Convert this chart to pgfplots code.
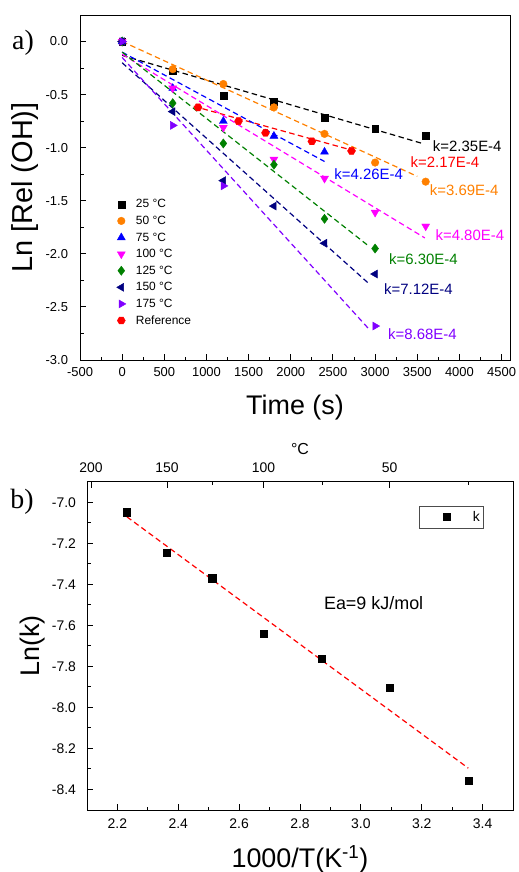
\documentclass[border=0pt]{standalone}
\usepackage{pgfplots}
\pgfplotsset{compat=1.18}
\usepackage{fontspec}
\setmainfont{Liberation Sans}
\newfontfamily\seriffont{Liberation Serif}
\definecolor{cOrange}{RGB}{255,128,0}
\definecolor{cBlue}{RGB}{0,0,255}
\definecolor{cMag}{RGB}{255,0,255}
\definecolor{cGreen}{RGB}{0,128,0}
\definecolor{cNavy}{RGB}{0,0,128}
\definecolor{cPurple}{RGB}{128,0,255}
\definecolor{cRed}{RGB}{255,0,0}
\pgfdeclareplotmark{hexagon*}{%
  \pgfpathmoveto{\pgfqpointpolar{0}{\pgfplotmarksize}}%
  \pgfpathlineto{\pgfqpointpolar{60}{\pgfplotmarksize}}%
  \pgfpathlineto{\pgfqpointpolar{120}{\pgfplotmarksize}}%
  \pgfpathlineto{\pgfqpointpolar{180}{\pgfplotmarksize}}%
  \pgfpathlineto{\pgfqpointpolar{240}{\pgfplotmarksize}}%
  \pgfpathlineto{\pgfqpointpolar{300}{\pgfplotmarksize}}%
  \pgfpathclose\pgfusepathqfillstroke}
\pgfplotsset{
  fitline/.style={line width=1.2bp, dash pattern=on 5.5bp off 3.5bp, forget plot, no marks},
  commonax/.style={scale only axis, tick align=inside, axis line style={line width=1bp},
    major tick length=6bp, minor tick length=3.5bp,
    every tick/.style={line width=1bp, black},
    /pgf/number format/assume math mode=true, /pgf/number format/1000 sep={},
    scaled ticks=false, clip=false},
}
\begin{document}
\begin{tikzpicture}
%%%%% Top panel
\begin{axis}[commonax, at={(80bp,-15bp)}, anchor=north west, width=430bp, height=345bp,
  xmin=-500, xmax=4600, ymin=-3, ymax=0.25,
  xtick={-500,0,500,1000,1500,2000,2500,3000,3500,4000,4500},
  ytick={-3,-2.5,-2,-1.5,-1,-0.5,0},
  minor x tick num=1, minor y tick num=1,
  xtick pos=left, ytick pos=left,
  tick label style={font=\fontsize{13}{15}\selectfont},
  yticklabel style={/pgf/number format/.cd, fixed, fixed zerofill, precision=1, /tikz/.cd, xshift=-8.5bp},
  xticklabel style={yshift=-4bp},
  xlabel={Time (s)}, ylabel={Ln [Rel (OH)]},
  xlabel style={font=\fontsize{27}{30}\selectfont, at={(axis description cs:0.5,-0.139)}, anchor=center},
  ylabel style={font=\fontsize{29}{32}\selectfont, at={(axis description cs:-0.128,0.5)}, anchor=center},
  legend style={at={(0.0849,0.475)}, anchor=north west, draw=none, fill=none,
    font=\fontsize{12}{14}\selectfont, inner sep=0pt, row sep=0.6bp,
    nodes={text height=9bp, text depth=2bp, inner ysep=2.5bp},
    /tikz/every odd column/.append style={column sep=8bp}},
  legend cell align=left,
]
\addplot[only marks, mark=square*, mark size=3.4bp, black] coordinates {(0,0)(600,-0.28)(1200,-0.51)(1800,-0.57)(2400,-0.72)(3000,-0.82)(3600,-0.89)};
\addlegendentry{25 °C}
\addplot[only marks, mark=*, mark size=3.8bp, cOrange] coordinates {(0,0)(600,-0.26)(1200,-0.40)(1800,-0.62)(2400,-0.87)(3000,-1.14)(3600,-1.32)};
\addlegendentry{50 °C}
\addplot[only marks, mark=triangle*, mark size=4.6bp, cBlue] coordinates {(0,0)(600,-0.44)(1200,-0.75)(1800,-0.89)(2400,-1.04)};
\addlegendentry{75 °C}
\addplot[only marks, mark=triangle*, mark size=4.6bp, mark options={rotate=180}, cMag] coordinates {(0,0)(600,-0.44)(1200,-0.81)(1800,-1.11)(2400,-1.29)(3000,-1.61)(3600,-1.74)};
\addlegendentry{100 °C}
\addplot[only marks, mark=diamond*, mark size=4.6bp, cGreen] coordinates {(0,0)(600,-0.58)(1200,-0.96)(1800,-1.16)(2400,-1.67)(3000,-1.95)};
\addlegendentry{125 °C}
\addplot[only marks, mark=triangle*, mark size=4.6bp, mark options={rotate=90}, cNavy] coordinates {(0,0)(600,-0.66)(1200,-1.31)(1800,-1.55)(2400,-1.90)(3000,-2.19)};
\addlegendentry{150 °C}
\addplot[only marks, mark=triangle*, mark size=4.6bp, mark options={rotate=-90}, cPurple] coordinates {(0,0)(600,-0.79)(1200,-1.36)(3000,-2.68)};
\addlegendentry{175 °C}
\addplot[only marks, mark=hexagon*, mark size=4bp, cRed] coordinates {(900,-0.62)(1380,-0.75)(1700,-0.86)(2250,-0.94)(2720,-1.03)};
\addlegendentry{Reference}
% fitted lines
\addplot[fitline, black] coordinates {(0,-0.13)(3560,-0.96)};
\addplot[fitline, cOrange] coordinates {(0,0)(3500,-1.27)};
\addplot[fitline, cRed] coordinates {(850,-0.61)(2800,-1.04)};
\addplot[fitline, cBlue] coordinates {(0,-0.10)(2400,-1.13)};
\addplot[fitline, cMag] coordinates {(0,-0.12)(3590,-1.85)};
\addplot[fitline, cGreen] coordinates {(0,-0.10)(2930,-1.93)};
\addplot[fitline, cNavy] coordinates {(0,-0.20)(2940,-2.29)};
\addplot[fitline, cPurple] coordinates {(0,-0.15)(2940,-2.72)};
\begin{scope}[every node/.style={anchor=west, inner sep=0pt, font=\fontsize{15}{17}\selectfont}]
\node[text=black] at (axis cs:3684,-0.984) {k=2.35E-4};
\node[text=cRed] at (axis cs:3420,-1.14) {k=2.17E-4};
\node[text=cOrange] at (axis cs:3648,-1.40) {k=3.69E-4};
\node[text=cBlue] at (axis cs:2515,-1.25) {k=4.26E-4};
\node[text=cMag] at (axis cs:3715,-1.82) {k=4.80E-4};
\node[text=cGreen] at (axis cs:3164,-2.05) {k=6.30E-4};
\node[text=cNavy] at (axis cs:3105,-2.33) {k=7.12E-4};
\node[text=cPurple] at (axis cs:3152,-2.76) {k=8.68E-4};
\end{scope}
\node[font=\seriffont\fontsize{28}{30}\selectfont] at (axis description cs:-0.1326,0.919) {a)};
\end{axis}
%%%%% Bottom panel
\begin{axis}[commonax, at={(87bp,-481.7bp)}, anchor=north west, width=426bp, height=328.3bp,
  xmin=2.1, xmax=3.5, ymin=-8.5, ymax=-6.9,
  xtick={2.2,2.4,...,3.41}, ytick={-8.4,-8.2,-8.0,-7.8,-7.6,-7.4,-7.2,-7.0},
  minor x tick num=1, minor y tick num=1,
  xtick pos=left, ytick pos=left,
  tick label style={font=\fontsize{14}{16}\selectfont},
  yticklabel style={/pgf/number format/.cd, fixed, fixed zerofill, precision=1, /tikz/.cd, xshift=-7.5bp},
  xticklabel style={/pgf/number format/.cd, fixed, fixed zerofill, precision=1, /tikz/.cd, yshift=-5.5bp},
  xlabel={1000/T(K\textsuperscript{-1})}, ylabel={Ln(k)},
  xlabel style={font=\fontsize{27}{30}\selectfont, at={(axis description cs:0.5,-0.149)}, anchor=center},
  ylabel style={font=\fontsize{27}{30}\selectfont, at={(axis description cs:-0.127,0.5)}, anchor=center},
  legend style={at={(0.779,0.926)}, anchor=north west, draw=black!70, line width=0.6bp, fill=white,
    font=\fontsize{14}{16}\selectfont, inner xsep=0bp, inner ysep=1bp,
    nodes={inner xsep=4bp, inner ysep=4bp},
    /tikz/every odd column/.append style={column sep=16bp}},
  legend image code/.code={\path (0bp,0bp) (33bp,0bp); \draw[#1] plot coordinates {(27bp,0bp)};},
]
\addplot[only marks, mark=square*, mark size=3.6bp, black] coordinates {(2.2314,-7.049)(2.3632,-7.247)(2.5116,-7.370)(2.6799,-7.642)(2.8723,-7.762)(3.0945,-7.905)(3.3540,-8.356)};
\addlegendentry{k}
\addplot[fitline, cRed] coordinates {(2.231,-7.071)(3.353,-8.296)};
\node[font=\fontsize{18}{20}\selectfont] at (axis cs:3.042,-7.494) {Ea=9 kJ/mol};
\node[font=\seriffont\fontsize{28}{30}\selectfont] at (axis description cs:-0.1526,0.938) {b)};
\end{axis}
\begin{axis}[commonax, at={(87bp,-481.7bp)}, anchor=north west, width=426bp, height=328.3bp,
  xmin=2.1, xmax=3.5, ymin=-8.5, ymax=-6.9,
  axis x line*=top, axis y line=none,
  xtick={2.1135,2.3632,2.6799,3.0945}, xticklabels={200,150,100,50},
  minor xtick={2.5116,2.8723,3.3540},
  tick label style={font=\fontsize{14}{16}\selectfont},
  xticklabel style={yshift=5.5bp},
  xlabel={°C},
  xlabel style={font=\fontsize{16}{18}\selectfont, at={(axis description cs:0.5,1.0996)}, anchor=center},
]
\addplot[draw=none, forget plot] coordinates {(2.5,-7.5)};
\end{axis}
\pgfresetboundingbox
\useasboundingbox (0,0) rectangle (519bp,-872bp);
\end{tikzpicture}
\end{document}
